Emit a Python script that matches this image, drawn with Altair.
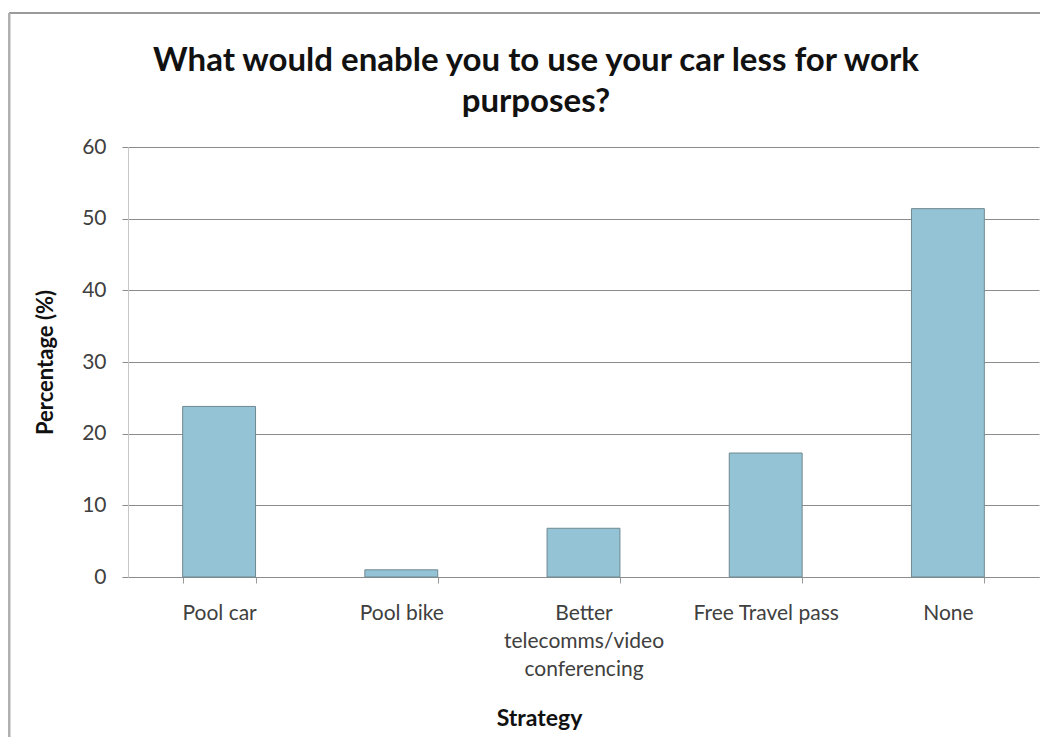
import altair as alt
import pandas as pd

categories = ["Pool car", "Pool bike", "Better telecomms/video conferencing", "Free Travel pass", "None"]
values = [23.8, 1.0, 6.8, 17.3, 51.4]
title_lines = ["What would enable you to use your car less for work", "purposes?"]

df = pd.DataFrame({"Strategy": categories, "Percentage": values})

FONT = "Lato"

bars = alt.Chart(df).mark_bar(
    color="#93C3D4", stroke="#6f8890", strokeWidth=1
).encode(
    x=alt.X("Strategy:N", sort=categories, scale=alt.Scale(paddingInner=0.6, paddingOuter=0.3),
            axis=alt.Axis(
                title="Strategy", labelAngle=0, labelFontSize=21, labelColor="#404040",
                labelFont=FONT, labelPadding=19, labelLineHeight=28,
                labelExpr="datum.label == 'Better telecomms/video conferencing' ? ['Better', 'telecomms/video', 'conferencing'] : datum.label",
                tickBand="extent", tickSize=6, tickColor="#9a9a9a", domainColor="#8c8c8c",
                titleFontSize=23, titleFont=FONT, titleFontWeight="bold", titleColor="#111111",
                titleX=411, titleY=141, titleBaseline="middle", titleAnchor="start", titleAlign="center",
            )),
    y=alt.Y("Percentage:Q", scale=alt.Scale(domain=[0, 60]),
            axis=alt.Axis(
                title="Percentage (%)", values=[0, 10, 20, 30, 40, 50, 60], labelFontSize=21,
                labelColor="#404040", labelFont=FONT, labelPadding=16, tickSize=6,
                tickColor="#8c8c8c", domainColor="#c8c8c8", gridColor="#8c8c8c",
                titleFontSize=22, titleFont=FONT, titleFontWeight="bold", titleColor="#111111",
                titleX=-83, titleY=215, titleAngle=-90, titleBaseline="middle", titleAlign="center",
                titleAnchor="start",
            )),
)

frame_df = pd.DataFrame({"k": [0]})
title_text = alt.Chart(frame_df).mark_text(
    font=FONT, fontSize=33, fontWeight="bold", color="#111111",
    align="center", baseline="middle", lineHeight=41,
).encode(
    x=alt.value(408), y=alt.value(-86), text=alt.value(title_lines)
)
top_line = alt.Chart(frame_df).mark_rule(color="#9a9a9a", strokeWidth=2).encode(
    x=alt.value(-119), x2=alt.value(915), y=alt.value(-134)
)
left_line = alt.Chart(frame_df).mark_rule(color="#b0b0b0", strokeWidth=3).encode(
    x=alt.value(-119), y=alt.value(-134), y2=alt.value(590)
)

chart = alt.layer(bars, title_text, top_line, left_line).properties(
    width=911, height=430,
    autosize=alt.AutoSizeParams(type="none"),
    padding={"left": 120, "top": 139, "right": 1, "bottom": 160},
).configure_view(stroke=None)

chart.save("out.html", embed_options={"renderer": "svg", "actions": False})
